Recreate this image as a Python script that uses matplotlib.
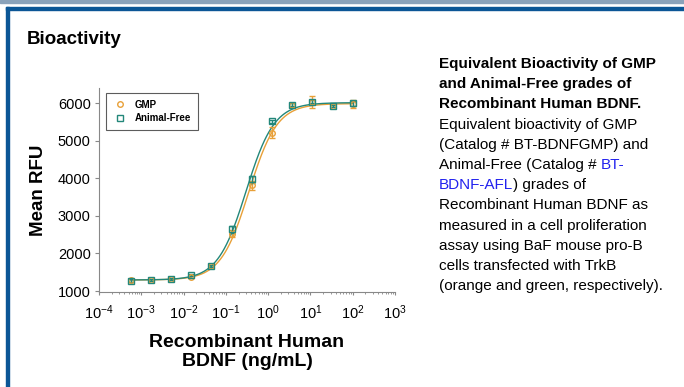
import numpy as np
import matplotlib.pyplot as plt
from matplotlib.patches import Rectangle
from matplotlib.lines import Line2D
from matplotlib.ticker import LogLocator, NullFormatter, FixedLocator

plt.rcParams['font.family'] = ['Liberation Sans', 'DejaVu Sans']
plt.rcParams['mathtext.default'] = 'regular'

# concentrations (ng/mL), 3-fold dilution from 100
conc = [0.000565, 0.00169, 0.00508, 0.0152, 0.0457, 0.137, 0.41, 1.23, 3.7, 11.1, 33.3, 100]
gmp = [1285, 1290, 1320, 1385, 1660, 2530, 3820, 5210, 5950, 6030, 5920, 5980]
gmp_err = [40, 30, 30, 40, 30, 100, 120, 150, 60, 160, 30, 100]
af = [1280, 1285, 1320, 1420, 1665, 2640, 3970, 5520, 5960, 6040, 5930, 5990]
af_err = [40, 30, 30, 30, 30, 100, 100, 40, 50, 40, 30, 60]

# 4PL fit parameters: bottom, top, EC50, hill
gmp_fit = (1295, 5985, 0.35, 1.3)
af_fit = (1295, 6010, 0.30, 1.3)

orange = '#E8A038'
teal = '#23877A'
link_blue = '#2222EE'

fig = plt.figure(figsize=(6.84, 3.87), dpi=100)

# page frame
fig.patches.append(Rectangle((0, 1 - 3 / 387), 1, 3 / 387, transform=fig.transFigure,
                             color='#8AA2BA', zorder=0))
fig.patches.append(Rectangle((6 / 684, 1 - 10 / 387), 1, 3 / 387, transform=fig.transFigure,
                             color='#0B5696', zorder=0))
fig.patches.append(Rectangle((6 / 684, 0), 3 / 684, 1 - 7 / 387, transform=fig.transFigure,
                             color='#0B5696', zorder=0))

fig.text(27 / 684, 1 - 40 / 387, 'Bioactivity', fontsize=13.5, fontweight='bold', va='center')

ax = fig.add_axes([99 / 684, 1 - 292 / 387, 296 / 684, 204 / 387])


def four_pl(x, p):
    b, t, ec, h = p
    return b + (t - b) / (1 + (ec / x) ** h)


xs = np.logspace(np.log10(conc[0]), np.log10(conc[-1]), 300)
ax.plot(xs, four_pl(xs, gmp_fit), color=orange, lw=1)
ax.plot(xs, four_pl(xs, af_fit), color=teal, lw=1)

ax.errorbar(conc, gmp, yerr=gmp_err, fmt='o', ms=4, mfc='none', mec=orange, mew=1,
            ecolor=orange, elinewidth=1, capsize=2.5)
ax.errorbar(conc, af, yerr=af_err, fmt='s', ms=4, mfc='none', mec=teal, mew=1,
            ecolor=teal, elinewidth=1, capsize=2.5)

ax.set_xscale('log')
ax.set_xlim(1e-4, 1e3)
ax.set_ylim(975, 6400)
ax.yaxis.set_major_locator(FixedLocator([1000, 2000, 3000, 4000, 5000, 6000]))
ax.xaxis.set_major_locator(FixedLocator([10.0 ** k for k in range(-4, 4)]))
ax.set_xticklabels([r'$10^{%d}$' % k for k in range(-4, 4)])
ax.xaxis.set_minor_locator(LogLocator(base=10, subs=np.arange(2, 10)))
ax.xaxis.set_minor_formatter(NullFormatter())

for s in ['top', 'right']:
    ax.spines[s].set_visible(False)
for s in ['left', 'bottom']:
    ax.spines[s].set_color('#888888')
    ax.spines[s].set_linewidth(0.8)
ax.tick_params(axis='y', length=3, color='#888888', labelsize=10.5, pad=3)
ax.tick_params(axis='x', which='major', length=2.5, color='#888888', labelsize=10.5, pad=6)
ax.tick_params(axis='x', which='minor', length=1.5, color='#888888')

ax.set_ylabel('Mean RFU', fontsize=13.5, fontweight='bold', labelpad=8)
ax.set_xlabel('Recombinant Human\nBDNF (ng/mL)', fontsize=14, fontweight='bold', labelpad=8)

handles = [Line2D([], [], ls='none', marker='o', ms=4, mfc='none', mec=orange, mew=1),
           Line2D([], [], ls='none', marker='s', ms=4, mfc='none', mec=teal, mew=1)]
leg = ax.legend(handles, ['GMP', 'Animal-Free'], loc='upper left', bbox_to_anchor=(0.006, 1.0),
                frameon=True, fancybox=False, edgecolor='#333333', borderpad=0.7,
                handletextpad=0.7, handlelength=1.6, labelspacing=0.35,
                prop={'weight': 'bold', 'size': 7})
leg.get_frame().set_linewidth(0.8)

# caption text on the right
x0 = 439 / 684
fs = 11
lines = [
    [('Equivalent Bioactivity of GMP', 'k')],
    [('and Animal-Free grades of', 'k')],
    [('Recombinant Human BDNF.', 'k')],
    [('Equivalent bioactivity of GMP', 'k')],
    [('(Catalog # BT-BDNFGMP) and', 'k')],
    [('Animal-Free (Catalog # ', 'k'), ('BT-', link_blue)],
    [('BDNF-AFL', link_blue), (') grades of', 'k')],
    [('Recombinant Human BDNF as', 'k')],
    [('measured in a cell proliferation', 'k')],
    [('assay using BaF mouse pro-B', 'k')],
    [('cells transfected with TrkB', 'k')],
    [('(orange and green, respectively).', 'k')],
]
for i, parts in enumerate(lines):
    y = 1 - (64 + i * 20.2) / 387
    weight = 'bold' if i < 3 else 'normal'
    last = None
    for txt, col in parts:
        if last is None:
            last = fig.text(x0, y, txt, fontsize=fs, fontweight=weight, color=col, va='center')
        else:
            last = fig.add_artist(plt.Annotation(txt, xy=(1, 0), xycoords=last, ha='left',
                                                 va='bottom', fontsize=fs, fontweight=weight,
                                                 color=col))

fig.savefig('out.png', dpi=100)
